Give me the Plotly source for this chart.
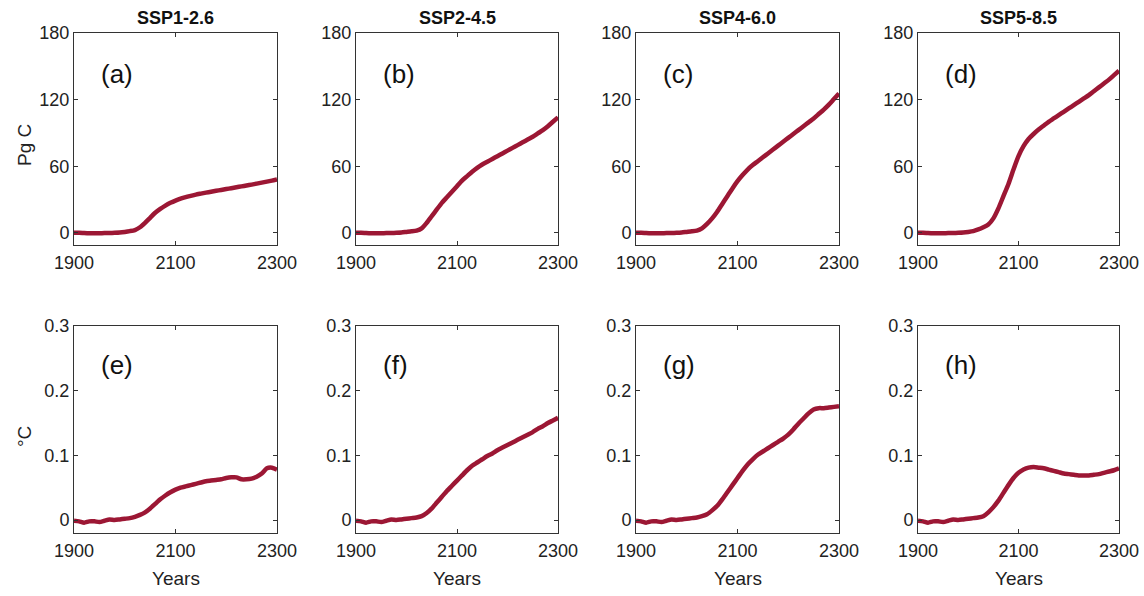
import plotly.graph_objects as go

W, H = 1144, 596

years = [1900, 1910, 1920, 1930, 1940, 1950, 1960, 1970, 1980, 1990,
         2000, 2010, 2020, 2030, 2040, 2050, 2060, 2070, 2080, 2090,
         2100, 2110, 2120, 2130, 2140, 2150, 2160, 2170, 2180, 2190,
         2200, 2210, 2220, 2230, 2240, 2250, 2260, 2270, 2280, 2290, 2300]

scenarios = ["SSP1-2.6", "SSP2-4.5", "SSP4-6.0", "SSP5-8.5"]
carbon_labels = ["(a)", "(b)", "(c)", "(d)"]
temp_labels = ["(e)", "(f)", "(g)", "(h)"]

# Pg C
carbon_ssp126 = [0, 0, -0.3, -0.5, -0.5, -0.4, -0.3, -0.2, 0, 0.3,
                 0.8, 1.5, 2.5, 5, 9, 13.5, 18, 21.5, 24.5, 27,
                 29, 30.7, 32.1, 33.3, 34.4, 35.3, 36.2, 37, 37.8, 38.6,
                 39.4, 40.2, 41, 41.8, 42.6, 43.4, 44.3, 45.2, 46.1, 47, 48]
carbon_ssp245 = [0, 0, -0.3, -0.5, -0.5, -0.4, -0.3, -0.2, 0, 0.3,
                 0.8, 1.3, 2, 4, 9, 15, 21, 27, 32, 37,
                 42, 47, 51, 55, 58.5, 61.5, 64, 66.5, 69, 71.5,
                 74, 76.5, 79, 81.5, 84, 86.5, 89.5, 92.5, 96, 100, 104]
carbon_ssp460 = [0, 0, -0.3, -0.5, -0.5, -0.4, -0.3, -0.2, 0, 0.3,
                 0.8, 1.3, 2, 4, 8, 13, 19, 26, 33, 40,
                 46.5, 52, 57, 61, 64.5, 68, 71.5, 75, 78.5, 82,
                 85.5, 89, 92.5, 96, 99.5, 103, 107, 111, 115.5, 120.5, 125.5]
carbon_ssp585 = [0, 0, -0.3, -0.5, -0.5, -0.4, -0.3, -0.2, 0, 0.3,
                 0.8, 1.5, 3, 5, 7.5, 13, 22, 33, 44, 57,
                 69, 78, 84.5, 89, 93, 96.5, 100, 103, 106, 109,
                 112, 115, 118, 121, 124, 127.5, 131, 134.5, 138, 142, 146]

# degrees C
temp_ssp126 = [-0.001, -0.002, -0.004, -0.002, -0.002, -0.003, -0.001, 0.001, 0.000, 0.001,
               0.002, 0.003, 0.005, 0.008, 0.012, 0.018, 0.025, 0.032, 0.038, 0.043,
               0.047, 0.050, 0.052, 0.054, 0.056, 0.058, 0.060, 0.061, 0.062, 0.063,
               0.065, 0.066, 0.066, 0.063, 0.063, 0.064, 0.067, 0.072, 0.080, 0.081, 0.078]
temp_ssp245 = [-0.001, -0.002, -0.004, -0.002, -0.002, -0.003, -0.001, 0.001, 0.000, 0.001,
               0.002, 0.003, 0.004, 0.006, 0.011, 0.018, 0.027, 0.036, 0.045, 0.053,
               0.061, 0.069, 0.077, 0.084, 0.089, 0.094, 0.099, 0.103, 0.108, 0.112,
               0.116, 0.120, 0.124, 0.128, 0.132, 0.136, 0.141, 0.145, 0.150, 0.154, 0.158]
temp_ssp460 = [-0.001, -0.002, -0.004, -0.002, -0.002, -0.003, -0.001, 0.001, 0.000, 0.001,
               0.002, 0.003, 0.004, 0.006, 0.009, 0.015, 0.022, 0.032, 0.043, 0.054,
               0.065, 0.076, 0.086, 0.094, 0.101, 0.106, 0.111, 0.116, 0.121, 0.126,
               0.132, 0.140, 0.149, 0.157, 0.165, 0.171, 0.173, 0.173, 0.174, 0.175, 0.176]
temp_ssp585 = [-0.001, -0.002, -0.004, -0.002, -0.002, -0.003, -0.001, 0.001, 0.000, 0.001,
               0.002, 0.003, 0.004, 0.006, 0.012, 0.020, 0.030, 0.042, 0.054, 0.065,
               0.073, 0.078, 0.081, 0.082, 0.081, 0.080, 0.078, 0.076, 0.074, 0.072,
               0.071, 0.070, 0.069, 0.069, 0.069, 0.070, 0.071, 0.073, 0.075, 0.077, 0.080]

carbon = [carbon_ssp126, carbon_ssp245, carbon_ssp460, carbon_ssp585]
temp = [temp_ssp126, temp_ssp245, temp_ssp460, temp_ssp585]

x_ticks = [1900, 2100, 2300]
carbon_ticks = [0, 60, 120, 180]
temp_ticks = [0, 0.1, 0.2, 0.3]
temp_ticktext = ["0", "0.1", "0.2", "0.3"]

LINE = "#9c1734"
FONT = "Liberation Sans, Arial, sans-serif"
TXT = "#222222"

col_px = [(74, 277), (356, 558), (636, 839), (918, 1119)]
row_px = [(33, 245), (326, 533)]

fig = go.Figure()
annotations = []


def xd(a, b):
    return [a / W, b / W]


def yd(top, bot):
    return [1 - bot / H, 1 - top / H]


for r in range(2):
    for c in range(4):
        idx = r * 4 + c + 1
        sfx = "" if idx == 1 else str(idx)
        xa, ya = "x" + sfx, "y" + sfx
        series = carbon[c] if r == 0 else temp[c]
        fig.add_trace(go.Scatter(x=years, y=series, mode="lines",
                                 line=dict(color=LINE, width=4.5, shape="spline", smoothing=0.6),
                                 xaxis=xa, yaxis=ya, showlegend=False, hoverinfo="skip"))
        common = dict(showline=True, mirror="ticks", linecolor="#333333", linewidth=1,
                      ticks="inside", ticklen=4, tickcolor="#333333", showgrid=False,
                      zeroline=False, automargin=False,
                      tickfont=dict(family=FONT, size=18, color=TXT))
        xkw = dict(common, domain=xd(*col_px[c]), range=[1900, 2300], tickvals=x_ticks,
                   anchor=ya, ticklabelstandoff=1)
        if r == 0:
            ykw = dict(common, domain=yd(*row_px[r]), range=[-11, 180], tickvals=carbon_ticks,
                       anchor=xa)
        else:
            ykw = dict(common, domain=yd(*row_px[r]), range=[-0.02, 0.3], tickvals=temp_ticks,
                       ticktext=temp_ticktext, anchor=xa)
        fig.layout["xaxis" + sfx] = xkw
        fig.layout["yaxis" + sfx] = ykw
        lab = carbon_labels[c] if r == 0 else temp_labels[c]
        annotations.append(dict(x=1950, y=(143 if r == 0 else 0.239), xref=xa, yref=ya,
                                text=lab, showarrow=False, xanchor="left", yanchor="middle",
                                font=dict(family=FONT, size=26, color="#111111")))
        if r == 0:
            annotations.append(dict(x=(col_px[c][0] + col_px[c][1]) / 2 / W, y=1 - 18 / H,
                                    xref="paper", yref="paper", text="<b>" + scenarios[c] + "</b>",
                                    showarrow=False, xanchor="center", yanchor="middle",
                                    font=dict(family=FONT, size=18, color="#111111")))
        else:
            annotations.append(dict(x=(col_px[c][0] + col_px[c][1]) / 2 / W, y=1 - 578 / H,
                                    xref="paper", yref="paper", text="Years",
                                    showarrow=False, xanchor="center", yanchor="middle",
                                    font=dict(family=FONT, size=19, color=TXT)))

annotations.append(dict(x=24 / W, y=1 - 145 / H, xref="paper", yref="paper", text="Pg C",
                        textangle=-90, showarrow=False, xanchor="center", yanchor="middle",
                        font=dict(family=FONT, size=19, color=TXT)))
annotations.append(dict(x=24 / W, y=1 - 437 / H, xref="paper", yref="paper", text="°C",
                        textangle=-90, showarrow=False, xanchor="center", yanchor="middle",
                        font=dict(family=FONT, size=19, color=TXT)))

fig.update_layout(width=W, height=H, margin=dict(l=0, r=0, t=0, b=0),
                  paper_bgcolor="white", plot_bgcolor="white", annotations=annotations)
fig.write_html("out.html", config={"displayModeBar": False},
               post_script="document.body.style.margin='0';document.body.style.overflow='hidden';")
